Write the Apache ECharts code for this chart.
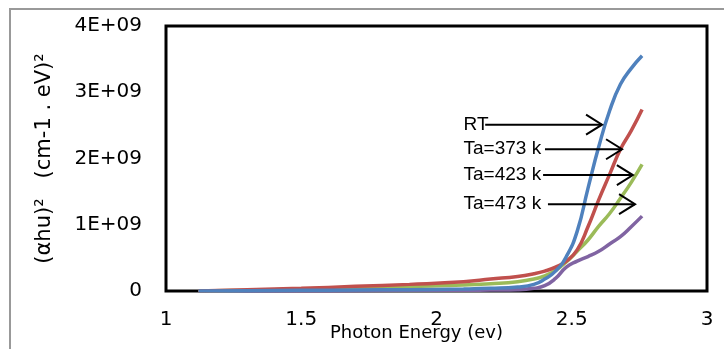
<!DOCTYPE html>
<html lang="en">
<head>
    <meta charset="UTF-8">
    <title>Photon Energy</title>
    <style>
        html, body { margin: 0; padding: 0; background: #fff; overflow: hidden; }
    </style>
</head>
<body>
<div id="main" style="width: 724px;height:349px;"></div>

<script src="https://cdn.jsdelivr.net/npm/echarts@6/dist/echarts.min.js"></script>
<script>
// photon energy (eV), shared by all curves
var energy = [1.12, 1.3, 1.5, 1.7, 1.9, 2.1, 2.2, 2.3, 2.36, 2.40, 2.44, 2.48, 2.52, 2.56, 2.60, 2.64, 2.68, 2.72, 2.76];

// (ahu)^2 values
var rtVals    = [0, 0.005e9, 0.01e9, 0.015e9, 0.02e9, 0.03e9, 0.04e9, 0.06e9, 0.10e9, 0.18e9, 0.30e9, 0.52e9, 0.90e9, 1.55e9, 2.18e9, 2.72e9, 3.12e9, 3.36e9, 3.55e9];
var ta373Vals = [0, 0.02e9, 0.04e9, 0.07e9, 0.10e9, 0.14e9, 0.18e9, 0.22e9, 0.26e9, 0.30e9, 0.36e9, 0.45e9, 0.62e9, 0.97e9, 1.38e9, 1.76e9, 2.14e9, 2.42e9, 2.74e9];
var ta423Vals = [0, 0.01e9, 0.03e9, 0.05e9, 0.07e9, 0.09e9, 0.11e9, 0.14e9, 0.18e9, 0.23e9, 0.31e9, 0.44e9, 0.60e9, 0.77e9, 0.98e9, 1.17e9, 1.40e9, 1.64e9, 1.91e9];
var ta473Vals = [0, 0, 0, 0.005e9, 0.01e9, 0.01e9, 0.015e9, 0.02e9, 0.04e9, 0.08e9, 0.19e9, 0.36e9, 0.45e9, 0.52e9, 0.60e9, 0.71e9, 0.82e9, 0.97e9, 1.13e9];

var seriesNames = ['RT', 'Ta=373 k', 'Ta=423 k', 'Ta=473 k'];
var seriesColors = ['#4F81BD', '#C0504D', '#9BBB59', '#8064A2'];

// arrow labels: text start x, level y, arrow start x, arrow end x
var noteText   = ['RT', 'Ta=373 k', 'Ta=423 k', 'Ta=473 k'];
var noteTextX  = [2.10, 2.10, 2.10, 2.10];
var noteY      = [2.51e9, 2.14e9, 1.75e9, 1.31e9];
var noteFromX  = [2.18, 2.401, 2.394, 2.412];
var noteToX    = [2.612, 2.686, 2.726, 2.734];

function pairs(vals) {
    var d = [];
    for (var i = 0; i < energy.length; i++) {
        d.push([energy[i], vals[i]]);
    }
    return d;
}

var myChart = echarts.init(document.getElementById('main'));
var allVals = [rtVals, ta373Vals, ta423Vals, ta473Vals];

var series = [];
for (var s = 0; s < allVals.length; s++) {
    series.push({
        name: seriesNames[s],
        type: 'line',
        smooth: true,
        showSymbol: false,
        data: pairs(allVals[s]),
        lineStyle: {color: seriesColors[s], width: 3.5},
        itemStyle: {color: seriesColors[s]},
        z: 3 + (allVals.length - s)
    });
}

var option = {
    animation: false,
    grid: {
        left: 166, right: 17, top: 26, bottom: 58,
        outerBoundsMode: 'none',
        containLabel: false,
        show: true,
        borderColor: '#000',
        borderWidth: 3,
        backgroundColor: '#fff'
    },
    xAxis: {
        type: 'value',
        min: 1, max: 3, interval: 0.5,
        name: 'Photon Energy (ev)',
        nameLocation: 'middle',
        nameGap: 33,
        nameMoveOverlap: false,
        nameTextStyle: {fontFamily: 'DejaVu Sans', fontSize: 18, color: '#000', padding: [0, 40, 0, 0]},
        axisLine: {show: false},
        axisTick: {show: false},
        splitLine: {show: false},
        axisLabel: {fontFamily: 'DejaVu Sans', fontSize: 20, color: '#000', margin: 19}
    },
    yAxis: {
        type: 'value',
        min: 0, max: 4e9, interval: 1e9,
        name: '(\u03b1hu)\u00b2   (cm-1 . eV)\u00b2',
        nameLocation: 'middle',
        nameGap: 111,
        nameMoveOverlap: false,
        nameTextStyle: {fontFamily: 'DejaVu Sans', fontSize: 21, color: '#000'},
        axisLine: {show: false},
        axisTick: {show: false},
        splitLine: {show: false},
        axisLabel: {
            fontFamily: 'DejaVu Sans', fontSize: 20, color: '#000', margin: 24,
            formatter: function (v) {
                return v === 0 ? '0' : (v / 1e9) + 'E+09';
            }
        }
    },
    series: series
};

myChart.setOption(option);

// outer frame + arrow notes placed through the axes
var graphics = [{
    type: 'rect',
    shape: {x: 10, y: 9, width: 760, height: 400},
    style: {fill: null, stroke: '#999', lineWidth: 2},
    silent: true,
    z: 0
}];
for (var n = 0; n < noteText.length; n++) {
    var tp = myChart.convertToPixel({gridIndex: 0}, [noteTextX[n], noteY[n]]);
    var a = myChart.convertToPixel({gridIndex: 0}, [noteFromX[n], noteY[n]]);
    var b = myChart.convertToPixel({gridIndex: 0}, [noteToX[n], noteY[n]]);
    graphics.push({
        type: 'text',
        x: tp[0], y: tp[1],
        style: {text: noteText[n], font: '19px "Liberation Sans"', fill: '#000', align: 'left', verticalAlign: 'middle'},
        z: 20
    });
    graphics.push({
        type: 'line',
        shape: {x1: a[0], y1: a[1], x2: b[0], y2: b[1]},
        style: {stroke: '#000', lineWidth: 2},
        z: 20
    });
    graphics.push({
        type: 'polyline',
        shape: {points: [[b[0] - 16, b[1] - 10], [b[0], b[1]], [b[0] - 16, b[1] + 10]]},
        style: {stroke: '#000', lineWidth: 2, fill: null},
        z: 20
    });
}
myChart.setOption({graphic: graphics});
</script>
</body>
</html>
